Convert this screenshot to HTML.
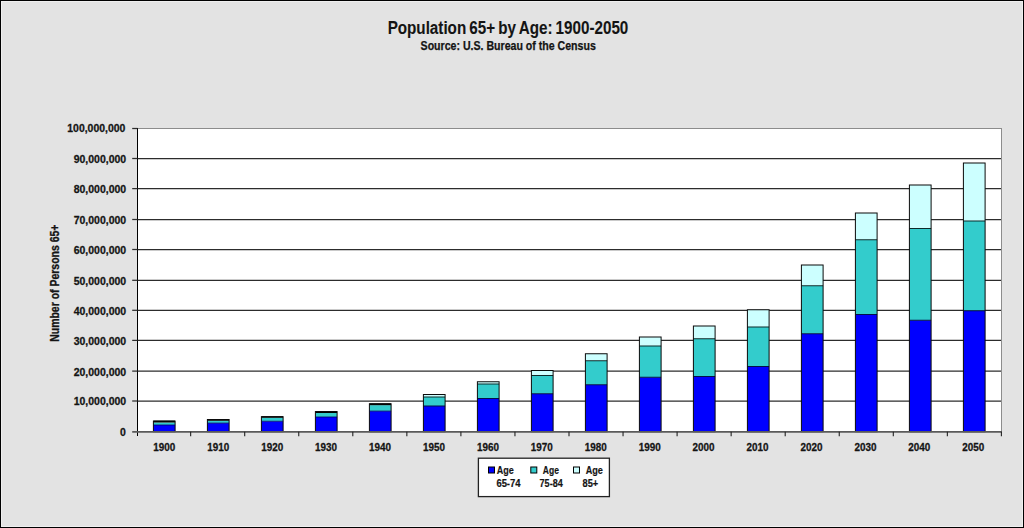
<!DOCTYPE html>
<html lang="en"><head><meta charset="utf-8"><title>Population 65+ by Age: 1900-2050</title>
<style>html,body{margin:0;padding:0;background:#e3e3e3;}svg{display:block}text{font-family:"Liberation Sans", Arial, sans-serif;font-weight:bold;fill:#141414;stroke:#141414;stroke-width:0.3px;stroke-linejoin:round}</style></head><body>
<svg width="1024" height="528" viewBox="0 0 1024 528">
<rect x="0" y="0" width="1024" height="528" fill="#e3e3e3"/>
<rect x="1.5" y="1.5" width="1021" height="525" fill="none" stroke="#efefef" stroke-width="1"/>
<rect x="0.5" y="0.5" width="1023" height="527" fill="none" stroke="#000" stroke-width="1"/>
<rect x="137.5" y="128.5" width="864.0" height="303.0" fill="#fff" stroke="#8c8c8c" stroke-width="1"/>
<line x1="137.5" x2="1001.0" y1="401.0" y2="401.0" stroke="#2c2c2c" stroke-width="1.25"/>
<line x1="137.5" x2="1001.0" y1="371.1" y2="371.1" stroke="#2c2c2c" stroke-width="1.25"/>
<line x1="137.5" x2="1001.0" y1="340.4" y2="340.4" stroke="#2c2c2c" stroke-width="1.25"/>
<line x1="137.5" x2="1001.0" y1="310.3" y2="310.3" stroke="#2c2c2c" stroke-width="1.25"/>
<line x1="137.5" x2="1001.0" y1="280.3" y2="280.3" stroke="#2c2c2c" stroke-width="1.25"/>
<line x1="137.5" x2="1001.0" y1="249.5" y2="249.5" stroke="#2c2c2c" stroke-width="1.25"/>
<line x1="137.5" x2="1001.0" y1="219.5" y2="219.5" stroke="#2c2c2c" stroke-width="1.25"/>
<line x1="137.5" x2="1001.0" y1="188.6" y2="188.6" stroke="#2c2c2c" stroke-width="1.25"/>
<line x1="137.5" x2="1001.0" y1="158.5" y2="158.5" stroke="#2c2c2c" stroke-width="1.25"/>
<rect x="153.4" y="425.00" width="21.7" height="6.70" fill="#0000ff"/>
<rect x="153.4" y="422.50" width="21.7" height="2.50" fill="#33cccc"/>
<rect x="153.4" y="420.60" width="21.7" height="1.90" fill="#000"/>
<rect x="153.4" y="421.10" width="21.7" height="10.60" fill="none" stroke="#0a0a0a" stroke-width="1"/>
<line x1="153.4" x2="175.1" y1="425.00" y2="425.00" stroke="#000066" stroke-width="0.8"/>
<rect x="207.4" y="423.10" width="21.7" height="8.60" fill="#0000ff"/>
<rect x="207.4" y="420.80" width="21.7" height="2.30" fill="#33cccc"/>
<rect x="207.4" y="419.00" width="21.7" height="1.80" fill="#000"/>
<rect x="207.4" y="419.50" width="21.7" height="12.20" fill="none" stroke="#0a0a0a" stroke-width="1"/>
<line x1="207.4" x2="229.1" y1="423.10" y2="423.10" stroke="#000066" stroke-width="0.8"/>
<rect x="261.4" y="421.25" width="21.7" height="10.45" fill="#0000ff"/>
<rect x="261.4" y="417.80" width="21.7" height="3.45" fill="#33cccc"/>
<rect x="261.4" y="416.20" width="21.7" height="1.60" fill="#000"/>
<rect x="261.4" y="416.70" width="21.7" height="15.00" fill="none" stroke="#0a0a0a" stroke-width="1"/>
<line x1="261.4" x2="283.1" y1="421.25" y2="421.25" stroke="#000066" stroke-width="0.8"/>
<rect x="315.4" y="417.00" width="21.7" height="14.70" fill="#0000ff"/>
<rect x="315.4" y="413.00" width="21.7" height="4.00" fill="#33cccc"/>
<rect x="315.4" y="411.10" width="21.7" height="1.90" fill="#000"/>
<rect x="315.4" y="411.60" width="21.7" height="20.10" fill="none" stroke="#0a0a0a" stroke-width="1"/>
<line x1="315.4" x2="337.1" y1="417.00" y2="417.00" stroke="#000066" stroke-width="0.8"/>
<rect x="369.4" y="411.10" width="21.7" height="20.60" fill="#0000ff"/>
<rect x="369.4" y="405.20" width="21.7" height="5.90" fill="#33cccc"/>
<rect x="369.4" y="403.30" width="21.7" height="1.90" fill="#000"/>
<rect x="369.4" y="403.80" width="21.7" height="27.90" fill="none" stroke="#0a0a0a" stroke-width="1"/>
<line x1="369.4" x2="391.1" y1="411.10" y2="411.10" stroke="#000066" stroke-width="0.8"/>
<rect x="423.4" y="406.00" width="21.7" height="25.70" fill="#0000ff"/>
<rect x="423.4" y="397.00" width="21.7" height="9.00" fill="#33cccc"/>
<rect x="423.4" y="394.50" width="21.7" height="2.50" fill="#ccffff"/>
<line x1="423.4" x2="445.1" y1="406.00" y2="406.00" stroke="#03104a" stroke-width="1"/>
<line x1="423.4" x2="445.1" y1="397.00" y2="397.00" stroke="#0c2a2a" stroke-width="1"/>
<rect x="423.4" y="394.50" width="21.7" height="37.20" fill="none" stroke="#0a0a0a" stroke-width="1"/>
<rect x="477.4" y="398.50" width="21.7" height="33.20" fill="#0000ff"/>
<rect x="477.4" y="384.00" width="21.7" height="14.50" fill="#33cccc"/>
<rect x="477.4" y="381.75" width="21.7" height="2.25" fill="#ccffff"/>
<line x1="477.4" x2="499.1" y1="398.50" y2="398.50" stroke="#03104a" stroke-width="1"/>
<line x1="477.4" x2="499.1" y1="384.00" y2="384.00" stroke="#0c2a2a" stroke-width="1"/>
<rect x="477.4" y="381.75" width="21.7" height="49.95" fill="none" stroke="#0a0a0a" stroke-width="1"/>
<rect x="531.4" y="393.75" width="21.7" height="37.95" fill="#0000ff"/>
<rect x="531.4" y="375.50" width="21.7" height="18.25" fill="#33cccc"/>
<rect x="531.4" y="370.50" width="21.7" height="5.00" fill="#ccffff"/>
<line x1="531.4" x2="553.1" y1="393.75" y2="393.75" stroke="#03104a" stroke-width="1"/>
<line x1="531.4" x2="553.1" y1="375.50" y2="375.50" stroke="#0c2a2a" stroke-width="1"/>
<rect x="531.4" y="370.50" width="21.7" height="61.20" fill="none" stroke="#0a0a0a" stroke-width="1"/>
<rect x="585.4" y="384.75" width="21.7" height="46.95" fill="#0000ff"/>
<rect x="585.4" y="360.75" width="21.7" height="24.00" fill="#33cccc"/>
<rect x="585.4" y="353.75" width="21.7" height="7.00" fill="#ccffff"/>
<line x1="585.4" x2="607.1" y1="384.75" y2="384.75" stroke="#03104a" stroke-width="1"/>
<line x1="585.4" x2="607.1" y1="360.75" y2="360.75" stroke="#0c2a2a" stroke-width="1"/>
<rect x="585.4" y="353.75" width="21.7" height="77.95" fill="none" stroke="#0a0a0a" stroke-width="1"/>
<rect x="639.4" y="377.25" width="21.7" height="54.45" fill="#0000ff"/>
<rect x="639.4" y="346.00" width="21.7" height="31.25" fill="#33cccc"/>
<rect x="639.4" y="337.00" width="21.7" height="9.00" fill="#ccffff"/>
<line x1="639.4" x2="661.1" y1="377.25" y2="377.25" stroke="#03104a" stroke-width="1"/>
<line x1="639.4" x2="661.1" y1="346.00" y2="346.00" stroke="#0c2a2a" stroke-width="1"/>
<rect x="639.4" y="337.00" width="21.7" height="94.70" fill="none" stroke="#0a0a0a" stroke-width="1"/>
<rect x="693.4" y="376.50" width="21.7" height="55.20" fill="#0000ff"/>
<rect x="693.4" y="338.75" width="21.7" height="37.75" fill="#33cccc"/>
<rect x="693.4" y="326.00" width="21.7" height="12.75" fill="#ccffff"/>
<line x1="693.4" x2="715.1" y1="376.50" y2="376.50" stroke="#03104a" stroke-width="1"/>
<line x1="693.4" x2="715.1" y1="338.75" y2="338.75" stroke="#0c2a2a" stroke-width="1"/>
<rect x="693.4" y="326.00" width="21.7" height="105.70" fill="none" stroke="#0a0a0a" stroke-width="1"/>
<rect x="747.4" y="366.50" width="21.7" height="65.20" fill="#0000ff"/>
<rect x="747.4" y="327.00" width="21.7" height="39.50" fill="#33cccc"/>
<rect x="747.4" y="309.75" width="21.7" height="17.25" fill="#ccffff"/>
<line x1="747.4" x2="769.1" y1="366.50" y2="366.50" stroke="#03104a" stroke-width="1"/>
<line x1="747.4" x2="769.1" y1="327.00" y2="327.00" stroke="#0c2a2a" stroke-width="1"/>
<rect x="747.4" y="309.75" width="21.7" height="121.95" fill="none" stroke="#0a0a0a" stroke-width="1"/>
<rect x="801.4" y="333.75" width="21.7" height="97.95" fill="#0000ff"/>
<rect x="801.4" y="285.75" width="21.7" height="48.00" fill="#33cccc"/>
<rect x="801.4" y="265.00" width="21.7" height="20.75" fill="#ccffff"/>
<line x1="801.4" x2="823.1" y1="333.75" y2="333.75" stroke="#03104a" stroke-width="1"/>
<line x1="801.4" x2="823.1" y1="285.75" y2="285.75" stroke="#0c2a2a" stroke-width="1"/>
<rect x="801.4" y="265.00" width="21.7" height="166.70" fill="none" stroke="#0a0a0a" stroke-width="1"/>
<rect x="855.4" y="314.50" width="21.7" height="117.20" fill="#0000ff"/>
<rect x="855.4" y="239.75" width="21.7" height="74.75" fill="#33cccc"/>
<rect x="855.4" y="213.00" width="21.7" height="26.75" fill="#ccffff"/>
<line x1="855.4" x2="877.1" y1="314.50" y2="314.50" stroke="#03104a" stroke-width="1"/>
<line x1="855.4" x2="877.1" y1="239.75" y2="239.75" stroke="#0c2a2a" stroke-width="1"/>
<rect x="855.4" y="213.00" width="21.7" height="218.70" fill="none" stroke="#0a0a0a" stroke-width="1"/>
<rect x="909.4" y="320.25" width="21.7" height="111.45" fill="#0000ff"/>
<rect x="909.4" y="228.50" width="21.7" height="91.75" fill="#33cccc"/>
<rect x="909.4" y="185.00" width="21.7" height="43.50" fill="#ccffff"/>
<line x1="909.4" x2="931.1" y1="320.25" y2="320.25" stroke="#03104a" stroke-width="1"/>
<line x1="909.4" x2="931.1" y1="228.50" y2="228.50" stroke="#0c2a2a" stroke-width="1"/>
<rect x="909.4" y="185.00" width="21.7" height="246.70" fill="none" stroke="#0a0a0a" stroke-width="1"/>
<rect x="963.4" y="310.75" width="21.7" height="120.95" fill="#0000ff"/>
<rect x="963.4" y="221.00" width="21.7" height="89.75" fill="#33cccc"/>
<rect x="963.4" y="163.00" width="21.7" height="58.00" fill="#ccffff"/>
<line x1="963.4" x2="985.1" y1="310.75" y2="310.75" stroke="#03104a" stroke-width="1"/>
<line x1="963.4" x2="985.1" y1="221.00" y2="221.00" stroke="#0c2a2a" stroke-width="1"/>
<rect x="963.4" y="163.00" width="21.7" height="268.70" fill="none" stroke="#0a0a0a" stroke-width="1"/>
<line x1="137.5" x2="137.5" y1="128" y2="436" stroke="#000" stroke-width="1"/>
<line x1="132.2" x2="1002.0" y1="431.85" y2="431.85" stroke="#5a5a5a" stroke-width="1.7"/>
<line x1="132.2" x2="137.5" y1="401.0" y2="401.0" stroke="#2c2c2c" stroke-width="1.25"/>
<line x1="132.2" x2="137.5" y1="371.1" y2="371.1" stroke="#2c2c2c" stroke-width="1.25"/>
<line x1="132.2" x2="137.5" y1="340.4" y2="340.4" stroke="#2c2c2c" stroke-width="1.25"/>
<line x1="132.2" x2="137.5" y1="310.3" y2="310.3" stroke="#2c2c2c" stroke-width="1.25"/>
<line x1="132.2" x2="137.5" y1="280.3" y2="280.3" stroke="#2c2c2c" stroke-width="1.25"/>
<line x1="132.2" x2="137.5" y1="249.5" y2="249.5" stroke="#2c2c2c" stroke-width="1.25"/>
<line x1="132.2" x2="137.5" y1="219.5" y2="219.5" stroke="#2c2c2c" stroke-width="1.25"/>
<line x1="132.2" x2="137.5" y1="188.6" y2="188.6" stroke="#2c2c2c" stroke-width="1.25"/>
<line x1="132.2" x2="137.5" y1="158.5" y2="158.5" stroke="#2c2c2c" stroke-width="1.25"/>
<line x1="132.2" x2="137.5" y1="128.5" y2="128.5" stroke="#2c2c2c" stroke-width="1.25"/>
<line x1="190.65" x2="190.65" y1="431.7" y2="436.2" stroke="#222" stroke-width="1.1"/>
<line x1="244.70" x2="244.70" y1="431.7" y2="436.2" stroke="#222" stroke-width="1.1"/>
<line x1="298.75" x2="298.75" y1="431.7" y2="436.2" stroke="#222" stroke-width="1.1"/>
<line x1="352.80" x2="352.80" y1="431.7" y2="436.2" stroke="#222" stroke-width="1.1"/>
<line x1="406.85" x2="406.85" y1="431.7" y2="436.2" stroke="#222" stroke-width="1.1"/>
<line x1="460.90" x2="460.90" y1="431.7" y2="436.2" stroke="#222" stroke-width="1.1"/>
<line x1="514.95" x2="514.95" y1="431.7" y2="436.2" stroke="#222" stroke-width="1.1"/>
<line x1="569.00" x2="569.00" y1="431.7" y2="436.2" stroke="#222" stroke-width="1.1"/>
<line x1="623.05" x2="623.05" y1="431.7" y2="436.2" stroke="#222" stroke-width="1.1"/>
<line x1="677.10" x2="677.10" y1="431.7" y2="436.2" stroke="#222" stroke-width="1.1"/>
<line x1="731.15" x2="731.15" y1="431.7" y2="436.2" stroke="#222" stroke-width="1.1"/>
<line x1="785.20" x2="785.20" y1="431.7" y2="436.2" stroke="#222" stroke-width="1.1"/>
<line x1="839.25" x2="839.25" y1="431.7" y2="436.2" stroke="#222" stroke-width="1.1"/>
<line x1="893.30" x2="893.30" y1="431.7" y2="436.2" stroke="#222" stroke-width="1.1"/>
<line x1="947.35" x2="947.35" y1="431.7" y2="436.2" stroke="#222" stroke-width="1.1"/>
<line x1="1001.40" x2="1001.40" y1="431.7" y2="436.2" stroke="#222" stroke-width="1.1"/>
<text x="125.7" y="436.1" font-size="11.8" text-anchor="end" textLength="5.8" lengthAdjust="spacingAndGlyphs">0</text>
<text x="126.2" y="405.4" font-size="11.8" text-anchor="end" textLength="52.5" lengthAdjust="spacingAndGlyphs">10,000,000</text>
<text x="126.2" y="375.5" font-size="11.8" text-anchor="end" textLength="52.5" lengthAdjust="spacingAndGlyphs">20,000,000</text>
<text x="126.2" y="344.8" font-size="11.8" text-anchor="end" textLength="52.5" lengthAdjust="spacingAndGlyphs">30,000,000</text>
<text x="126.2" y="314.7" font-size="11.8" text-anchor="end" textLength="52.5" lengthAdjust="spacingAndGlyphs">40,000,000</text>
<text x="126.2" y="284.7" font-size="11.8" text-anchor="end" textLength="52.5" lengthAdjust="spacingAndGlyphs">50,000,000</text>
<text x="126.2" y="253.9" font-size="11.8" text-anchor="end" textLength="52.5" lengthAdjust="spacingAndGlyphs">60,000,000</text>
<text x="126.2" y="223.9" font-size="11.8" text-anchor="end" textLength="52.5" lengthAdjust="spacingAndGlyphs">70,000,000</text>
<text x="126.2" y="193.0" font-size="11.8" text-anchor="end" textLength="52.5" lengthAdjust="spacingAndGlyphs">80,000,000</text>
<text x="126.2" y="162.9" font-size="11.8" text-anchor="end" textLength="52.5" lengthAdjust="spacingAndGlyphs">90,000,000</text>
<text x="125.3" y="132.1" font-size="11.8" text-anchor="end" textLength="58.0" lengthAdjust="spacingAndGlyphs">100,000,000</text>
<text x="164.3" y="451" font-size="11.8" text-anchor="middle" textLength="22" lengthAdjust="spacingAndGlyphs">1900</text>
<text x="218.2" y="451" font-size="11.8" text-anchor="middle" textLength="22" lengthAdjust="spacingAndGlyphs">1910</text>
<text x="272.2" y="451" font-size="11.8" text-anchor="middle" textLength="22" lengthAdjust="spacingAndGlyphs">1920</text>
<text x="326.1" y="451" font-size="11.8" text-anchor="middle" textLength="22" lengthAdjust="spacingAndGlyphs">1930</text>
<text x="380.0" y="451" font-size="11.8" text-anchor="middle" textLength="22" lengthAdjust="spacingAndGlyphs">1940</text>
<text x="433.9" y="451" font-size="11.8" text-anchor="middle" textLength="22" lengthAdjust="spacingAndGlyphs">1950</text>
<text x="487.9" y="451" font-size="11.8" text-anchor="middle" textLength="22" lengthAdjust="spacingAndGlyphs">1960</text>
<text x="541.8" y="451" font-size="11.8" text-anchor="middle" textLength="22" lengthAdjust="spacingAndGlyphs">1970</text>
<text x="595.7" y="451" font-size="11.8" text-anchor="middle" textLength="22" lengthAdjust="spacingAndGlyphs">1980</text>
<text x="649.7" y="451" font-size="11.8" text-anchor="middle" textLength="22" lengthAdjust="spacingAndGlyphs">1990</text>
<text x="703.6" y="451" font-size="11.8" text-anchor="middle" textLength="22" lengthAdjust="spacingAndGlyphs">2000</text>
<text x="757.5" y="451" font-size="11.8" text-anchor="middle" textLength="22" lengthAdjust="spacingAndGlyphs">2010</text>
<text x="811.5" y="451" font-size="11.8" text-anchor="middle" textLength="22" lengthAdjust="spacingAndGlyphs">2020</text>
<text x="865.4" y="451" font-size="11.8" text-anchor="middle" textLength="22" lengthAdjust="spacingAndGlyphs">2030</text>
<text x="919.3" y="451" font-size="11.8" text-anchor="middle" textLength="22" lengthAdjust="spacingAndGlyphs">2040</text>
<text x="973.2" y="451" font-size="11.8" text-anchor="middle" textLength="22" lengthAdjust="spacingAndGlyphs">2050</text>
<text x="508" y="34.1" style="stroke-width:0.1px;word-spacing:-1.3px" font-size="18.67" text-anchor="middle" textLength="240.7" lengthAdjust="spacingAndGlyphs">Population 65+ by Age: 1900-2050</text>
<text x="508.2" y="50.1" style="stroke-width:0.25px" font-size="12" text-anchor="middle" textLength="175.2" lengthAdjust="spacingAndGlyphs">Source: U.S. Bureau of the Census</text>
<text transform="translate(58.6 283.2) rotate(-90)" x="0" y="0" font-size="12" text-anchor="middle" textLength="117.2" lengthAdjust="spacingAndGlyphs">Number of Persons 65+</text>
<rect x="478.4" y="458.2" width="131" height="38.4" fill="#fff" stroke="#222" stroke-width="1.3"/>
<rect x="488.5" y="467" width="6" height="6" fill="#0000ff" stroke="#000" stroke-width="1"/>
<rect x="530.8" y="467" width="6" height="6" fill="#33cccc" stroke="#000" stroke-width="1"/>
<rect x="573.5" y="467" width="6" height="6" fill="#ccffff" stroke="#000" stroke-width="1"/>
<text x="496.7" y="473.8" style="stroke-width:0.2px" font-size="11.2" textLength="17.0" lengthAdjust="spacingAndGlyphs">Age</text>
<text x="542.8" y="473.8" style="stroke-width:0.2px" font-size="11.2" textLength="16.1" lengthAdjust="spacingAndGlyphs">Age</text>
<text x="585.7" y="473.8" style="stroke-width:0.2px" font-size="11.2" textLength="17.2" lengthAdjust="spacingAndGlyphs">Age</text>
<text x="496.4" y="487.2" style="stroke-width:0.2px" font-size="11.2" textLength="24.1" lengthAdjust="spacingAndGlyphs">65-74</text>
<text x="539.6" y="487.2" style="stroke-width:0.2px" font-size="11.2" textLength="23.1" lengthAdjust="spacingAndGlyphs">75-84</text>
<text x="582.5" y="487.2" style="stroke-width:0.2px" font-size="11.2" textLength="15.7" lengthAdjust="spacingAndGlyphs">85+</text>
</svg></body></html>
